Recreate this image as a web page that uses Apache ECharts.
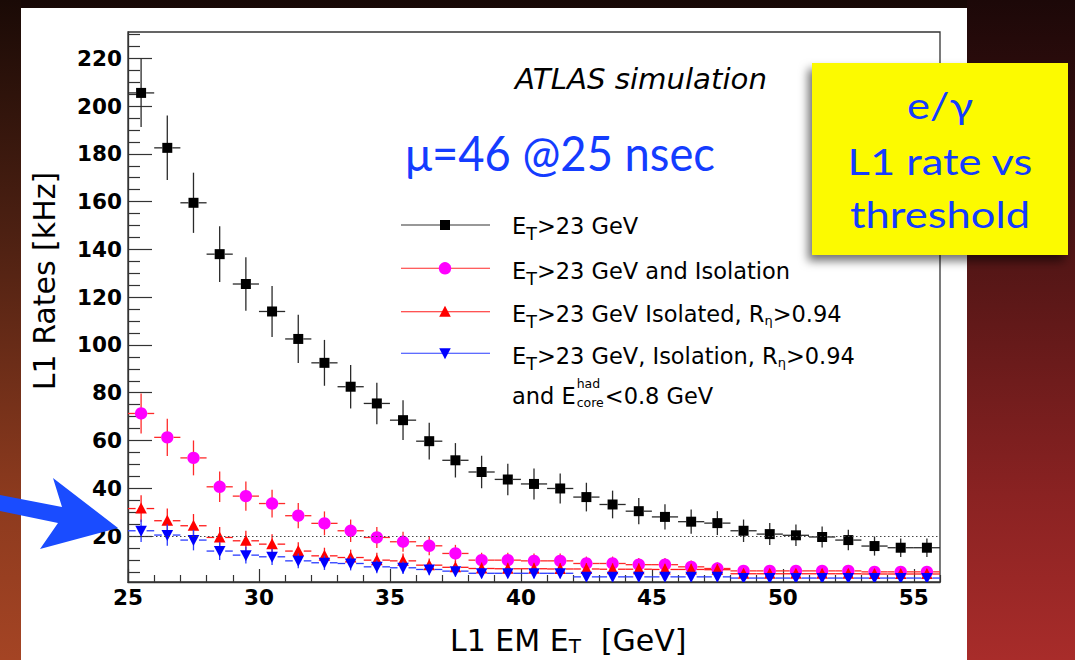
<!DOCTYPE html>
<html>
<head>
<meta charset="utf-8">
<script src="https://cdn.jsdelivr.net/npm/echarts@6/dist/echarts.min.js"></script>
<style>
  html, body { margin: 0; padding: 0; background: #000; }
  #chart { width: 1075px; height: 660px; }
</style>
</head>
<body>
<div id="chart"></div>
<script>
// L1 EM ET threshold scan: bin centres [GeV]
const thresholds = [25.5, 26.5, 27.5, 28.5, 29.5, 30.5, 31.5, 32.5, 33.5, 34.5, 35.5, 36.5, 37.5, 38.5, 39.5, 40.5,
                    41.5, 42.5, 43.5, 44.5, 45.5, 46.5, 47.5, 48.5, 49.5, 50.5, 51.5, 52.5, 53.5, 54.5, 55.5];

// ET>23 GeV
const rateEt = [205.5, 182.5, 159.5, 138.0, 125.5, 114.0, 102.5, 92.5, 82.5, 75.5, 68.5, 59.7, 51.7, 46.8, 43.7, 41.8,
                39.9, 36.3, 33.2, 30.4, 28.0, 26.0, 25.4, 22.2, 20.8, 20.3, 19.6, 18.3, 15.8, 15.1, 15.1];
const errEt = [14.3, 13.5, 12.6, 11.7, 11.2, 10.7, 10.1, 9.6, 9.1, 8.7, 8.3, 7.7, 7.2, 6.8, 6.6, 6.5,
               6.3, 6.0, 5.8, 5.5, 5.3, 5.1, 5.0, 4.7, 4.6, 4.5, 4.4, 4.3, 4.0, 3.9, 3.9];

// ET>23 GeV and Isolation
const rateIso = [71.3, 61.3, 52.7, 40.6, 36.7, 33.6, 28.5, 25.3, 22.2, 19.4, 17.6, 15.9, 12.7, 9.9, 9.9, 9.6,
                 9.6, 8.5, 8.5, 8.0, 8.0, 7.1, 6.4, 5.4, 5.4, 5.4, 5.4, 5.4, 5.0, 5.0, 5.0];
const errIso = [8.4, 7.8, 7.3, 6.4, 6.1, 5.8, 5.3, 5.0, 4.7, 4.4, 4.2, 4.0, 3.6, 3.1, 3.1, 3.1,
                3.1, 2.9, 2.9, 2.8, 2.8, 2.7, 2.5, 2.3, 2.3, 2.3, 2.3, 2.3, 2.2, 2.2, 2.2];

// ET>23 GeV Isolated, R_eta>0.94
const rateIsoReta = [31.5, 26.4, 24.3, 19.4, 18.0, 16.6, 13.7, 11.7, 11.0, 9.9, 9.6, 7.8, 6.9, 6.4, 6.3, 6.3,
                     6.2, 6.2, 6.1, 6.1, 6.0, 6.0, 5.9, 4.2, 4.2, 4.2, 4.2, 4.2, 4.1, 4.1, 4.1];
const errIsoReta = [5.6, 5.1, 4.9, 4.4, 4.2, 4.1, 3.7, 3.4, 3.3, 3.1, 3.1, 2.8, 2.6, 2.5, 2.5, 2.5,
                    2.5, 2.5, 2.5, 2.5, 2.4, 2.4, 2.4, 2.0, 2.0, 2.0, 2.0, 2.0, 2.0, 2.0, 2.0];

// ET>23 GeV, Isolation, R_eta>0.94 and E_core^had<0.8 GeV
const rateIsoRetaHad = [22.2, 20.4, 18.3, 13.7, 12.0, 11.3, 9.6, 8.8, 8.5, 7.1, 6.7, 6.0, 5.3, 4.4, 4.4, 4.4,
                        4.4, 2.9, 2.9, 2.9, 2.9, 2.9, 2.9, 2.4, 2.4, 2.4, 2.4, 2.4, 2.4, 2.4, 2.4];
const errIsoRetaHad = [4.7, 4.5, 4.3, 3.7, 3.5, 3.4, 3.1, 3.0, 2.9, 2.7, 2.6, 2.4, 2.3, 2.1, 2.1, 2.1,
                       2.1, 1.7, 1.7, 1.7, 1.7, 1.7, 1.7, 1.5, 1.5, 1.5, 1.5, 1.5, 1.5, 1.5, 1.5];

// Axis ranges and ticks
const xRange = [25, 56];
const yRange = [0.75, 231];
const xMajorTicks = [25, 30, 35, 40, 45, 50, 55];
const xMinorTicks = [26, 27, 28, 29, 31, 32, 33, 34, 36, 37, 38, 39, 41, 42, 43, 44, 46, 47, 48, 49, 51, 52, 53, 54, 56];
const yMajorTicks = [20, 40, 60, 80, 100, 120, 140, 160, 180, 200, 220];
const yMinorTicks = [5, 10, 15, 25, 30, 35, 45, 50, 55, 65, 70, 75, 85, 90, 95, 105, 110, 115, 125, 130, 135,
                     145, 150, 155, 165, 170, 175, 185, 190, 195, 205, 210, 215, 225, 230];
const referenceRate = 20;
const binHalfWidth = 0.5;

const GRID = { left: 128, top: 32, width: 812, height: 550 };
const FRAME = '#333';
const TXT = 'DejaVu Sans';
const SLIDE_BLUE = '#143cff';

// text measuring for the hand-placed labels
const mctx = document.createElement('canvas').getContext('2d');
function textWidth(str, font) { mctx.font = font; return mctx.measureText(str).width; }

function marker(kind, cx, cy, color) {
  if (kind === 'square') return { type: 'rect', shape: { x: cx - 5, y: cy - 5, width: 10, height: 10 }, style: { fill: color } };
  if (kind === 'circle') return { type: 'circle', shape: { cx: cx, cy: cy, r: 6.2 }, style: { fill: color } };
  if (kind === 'up') return { type: 'polygon', shape: { points: [[cx, cy - 6], [cx - 5.8, cy + 5], [cx + 5.8, cy + 5]] }, style: { fill: color } };
  return { type: 'polygon', shape: { points: [[cx, cy + 6], [cx - 5.8, cy - 5], [cx + 5.8, cy - 5]] }, style: { fill: color } };
}
const markerHalf = { square: 5, circle: 6.2, up: 5.5, down: 5.5 };

const seriesDefs = [
  { name: 'ET>23 GeV', values: rateEt, errors: errEt, kind: 'square', color: '#000000', bar: '#2a2a2a' },
  { name: 'ET>23 GeV and Isolation', values: rateIso, errors: errIso, kind: 'circle', color: '#ff00ff', bar: '#ff2a2a' },
  { name: 'ET>23 GeV Isolated', values: rateIsoReta, errors: errIsoReta, kind: 'up', color: '#ff0000', bar: '#ff1a1a' },
  { name: 'ET>23 GeV, Isolation, Had', values: rateIsoRetaHad, errors: errIsoRetaHad, kind: 'down', color: '#0000ff', bar: '#2a3cff' }
];

function errorSeries(def, idx) {
  const s = {
    type: 'custom',
    name: def.name,
    xAxisIndex: 0,
    yAxisIndex: 0,
    clip: true,
    silent: true,
    animation: false,
    data: thresholds.map((x, i) => [x, def.values[i], def.errors[i]]),
    renderItem: function (params, api) {
      const x = api.value(0), y = api.value(1), e = api.value(2);
      const p = api.coord([x, y]);
      const xl = api.coord([x - binHalfWidth, y])[0];
      const xr = api.coord([x + binHalfWidth, y])[0];
      const yt = api.coord([x, y + e])[1];
      const yb = api.coord([x, y - e])[1];
      const h = markerHalf[def.kind];
      const ls = { stroke: def.bar, lineWidth: 1.3 };
      return {
        type: 'group',
        children: [
          { type: 'line', shape: { x1: xl, y1: p[1], x2: p[0] - h, y2: p[1] }, style: ls },
          { type: 'line', shape: { x1: p[0] + h, y1: p[1], x2: xr, y2: p[1] }, style: ls },
          { type: 'line', shape: { x1: p[0], y1: yt, x2: p[0], y2: yb }, style: ls },
          marker(def.kind, p[0], p[1], def.color)
        ]
      };
    }
  };
  if (idx === 0) {
    s.markLine = {
      silent: true, symbol: 'none', animation: false,
      label: { show: false },
      lineStyle: { type: [1.5, 2.5], color: '#444', width: 1 },
      data: [{ yAxis: referenceRate }]
    };
  }
  return s;
}

// ---------- legend ----------
const legendRows = [225, 268.3, 311.7, 353.3];
const legendLineColors = ['#333', '#ff2a2a', '#ff1a1a', '#2a3cff'];
const legendTextY = [225.7, 271, 314.3, 356, 395.7];
const legendX = 512;
const legendFont = 22.5;
const baseRich = {
  sub: { fontFamily: TXT, fontSize: 17.5, fill: '#000', padding: [16, 0, 0, 0] },
  eta: { fontFamily: TXT, fontSize: 13, fill: '#000', padding: [13, 0, 0, 0] }
};
const legendTexts = [
  'E{sub|T}>23 GeV',
  'E{sub|T}>23 GeV and Isolation',
  'E{sub|T}>23 GeV Isolated, R{eta|η}>0.94',
  'E{sub|T}>23 GeV, Isolation, R{eta|η}>0.94'
];

const graphics = [];
// slide background
graphics.push({ type: 'rect', z: -100, shape: { x: 0, y: 0, width: 1075, height: 660 },
  style: { fill: { type: 'linear', x: 0, y: 0, x2: 0, y2: 1, colorStops: [
    { offset: 0, color: '#170806' }, { offset: 0.35, color: '#3c140e' }, { offset: 0.75, color: '#7c2a1c' }, { offset: 1, color: '#9a3422' }] } } });
graphics.push({ type: 'rect', z: -99, shape: { x: 0, y: 0, width: 21, height: 660 },
  style: { fill: { type: 'linear', x: 0, y: 0, x2: 0, y2: 1, colorStops: [
    { offset: 0, color: '#1a0a06' }, { offset: 0.35, color: '#4c2012' }, { offset: 0.75, color: '#8c3a1e' }, { offset: 1, color: '#a44424' }] } } });
graphics.push({ type: 'rect', z: -99, shape: { x: 967, y: 0, width: 108, height: 660 },
  style: { fill: { type: 'linear', x: 0, y: 0, x2: 0, y2: 1, colorStops: [
    { offset: 0, color: '#1c0808' }, { offset: 0.35, color: '#4c1414' }, { offset: 0.75, color: '#8a2222' }, { offset: 1, color: '#a82c2a' }] } } });
// white plot panel
graphics.push({ type: 'rect', z: -98, shape: { x: 21, y: 8, width: 946, height: 660 }, style: { fill: '#ffffff' } });

// legend lines and markers
seriesDefs.forEach((def, i) => {
  graphics.push({ type: 'line', z: 50, shape: { x1: 401, y1: legendRows[i], x2: 490, y2: legendRows[i] },
    style: { stroke: legendLineColors[i], lineWidth: 1.1 } });
  const m = marker(def.kind, 445, legendRows[i], def.color);
  m.z = 51;
  graphics.push(m);
});
legendTexts.forEach((t, i) => {
  graphics.push({ type: 'text', z: 52, x: legendX, y: legendTextY[i],
    style: { text: t, fontFamily: TXT, fontSize: legendFont, fill: '#000', verticalAlign: 'middle', align: 'left', rich: baseRich } });
});
// fifth legend line with stacked super/subscript
(function () {
  const mainFont = legendFont + 'px "' + TXT + '"';
  const smallSize = 12.5;
  const smallFont = smallSize + 'px "' + TXT + '"';
  const y = legendTextY[4];
  const w0 = textWidth('and E', mainFont);
  const ws = Math.max(textWidth('had', smallFont), textWidth('core', smallFont));
  graphics.push({ type: 'text', z: 52, x: legendX, y: y,
    style: { text: 'and E', fontFamily: TXT, fontSize: legendFont, fill: '#000', verticalAlign: 'middle' } });
  graphics.push({ type: 'text', z: 52, x: legendX + w0 + 1, y: y - 12.5,
    style: { text: 'had', fontFamily: TXT, fontSize: smallSize, fill: '#000', verticalAlign: 'middle' } });
  graphics.push({ type: 'text', z: 52, x: legendX + w0 + 1, y: y + 7,
    style: { text: 'core', fontFamily: TXT, fontSize: smallSize, fill: '#000', verticalAlign: 'middle' } });
  graphics.push({ type: 'text', z: 52, x: legendX + w0 + ws + 2, y: y,
    style: { text: '<0.8 GeV', fontFamily: TXT, fontSize: legendFont, fill: '#000', verticalAlign: 'middle' } });
})();

// width-fitted text helper
function fitted(str, o) {
  const font = (o.fontStyle || 'normal') + ' ' + (o.fontWeight || 'normal') + ' ' + o.fontSize + 'px ' + o.fontFamily;
  const sx = o.width ? o.width / textWidth(str, font) : 1;
  return { type: 'text', z: o.z || 60, x: o.x, y: o.y, scaleX: o.scaleX || sx,
    style: { text: str, fontFamily: o.fontFamily, fontSize: o.fontSize, fontStyle: o.fontStyle || 'normal',
      fontWeight: o.fontWeight || 'normal', fill: o.fill, align: o.align || 'left', verticalAlign: 'middle' } };
}

graphics.push(fitted('ATLAS simulation', { x: 515, y: 78.7, width: 252, fontSize: 29, fontFamily: '"DejaVu Sans"', fontStyle: 'italic', fill: '#000' }));
graphics.push(fitted('μ=46 @25 nsec', { x: 405, y: 152.5, width: 310, fontSize: 48, fontFamily: 'Lato, "Noto Sans", sans-serif', fill: SLIDE_BLUE }));

// axis titles
graphics.push({ type: 'text', z: 60, x: 44.5, y: 281, rotation: Math.PI / 2,
  style: { text: 'L1 Rates [kHz]', fontFamily: TXT, fontSize: 30, fill: '#000', align: 'center', verticalAlign: 'middle' } });
graphics.push({ type: 'text', z: 60, x: 450, y: 640,
  style: { text: 'L1 EM E{sub|T}{gap|}[GeV]', fontFamily: TXT, fontSize: 30, fill: '#000', align: 'left', verticalAlign: 'middle',
    rich: { sub: { fontFamily: TXT, fontSize: 20, fill: '#000', padding: [12, 0, 0, 0] },
            gap: { fontFamily: TXT, fontSize: 30, width: 20 } } } });

// blue arrow pointing at the 20 kHz line
graphics.push({ type: 'polygon', z: 70,
  shape: { points: [[0, 495], [62, 507], [53, 478], [118, 528], [40, 549], [58, 523], [0, 511]] },
  style: { fill: '#1a4cff' } });

// yellow note box
graphics.push({ type: 'rect', z: 80, shape: { x: 812, y: 63, width: 256, height: 192 },
  style: { fill: '#fcfa00', shadowBlur: 10, shadowColor: 'rgba(0,0,0,0.55)', shadowOffsetX: -4, shadowOffsetY: 6 } });
(function () {
  const fam = 'Lato, "Noto Sans", sans-serif';
  const size = 37;
  const sx = 180 / textWidth('threshold', 'normal normal ' + size + 'px ' + fam);
  [['e/γ', 104.5], ['L1 rate vs', 161], ['threshold', 213.5]].forEach(([t, y]) => {
    graphics.push(fitted(t, { x: 940, y: y, scaleX: sx, fontSize: size, fontFamily: fam, fill: SLIDE_BLUE, align: 'center', z: 81 }));
  });
})();

const chart = echarts.init(document.getElementById('chart'), null, { renderer: 'svg', width: 1075, height: 660 });

const axisLineStyle = { color: FRAME, width: 1.3 };
const tickFont = { color: '#000', fontFamily: TXT, fontWeight: 'bold', fontSize: 21.5 };
const option = {
  animation: false,
  backgroundColor: 'transparent',
  grid: [
    Object.assign({ show: true, borderColor: FRAME, borderWidth: 1.3, backgroundColor: 'transparent', containLabel: false }, GRID),
    Object.assign({ show: false, containLabel: false }, GRID)
  ],
  xAxis: [
    { type: 'value', gridIndex: 0, min: xRange[0], max: xRange[1], position: 'bottom',
      axisLine: { show: true, onZero: false, lineStyle: axisLineStyle },
      axisTick: { show: true, inside: true, length: 13, customValues: xMajorTicks, lineStyle: { color: FRAME, width: 1.2 } },
      axisLabel: Object.assign({ show: true, customValues: xMajorTicks, margin: 4 }, tickFont),
      splitLine: { show: false } },
    { type: 'value', gridIndex: 1, min: xRange[0], max: xRange[1], position: 'bottom',
      axisLine: { show: false, onZero: false },
      axisTick: { show: true, inside: true, length: 7, customValues: xMinorTicks, lineStyle: { color: FRAME, width: 1.2 } },
      axisLabel: { show: false }, splitLine: { show: false } }
  ],
  yAxis: [
    { type: 'value', gridIndex: 0, min: yRange[0], max: yRange[1], position: 'left',
      axisLine: { show: true, onZero: false, lineStyle: axisLineStyle },
      axisTick: { show: true, inside: true, length: 24, customValues: yMajorTicks, lineStyle: { color: FRAME, width: 1.2 } },
      axisLabel: Object.assign({ show: true, customValues: yMajorTicks, margin: 6 }, tickFont),
      splitLine: { show: false } },
    { type: 'value', gridIndex: 1, min: yRange[0], max: yRange[1], position: 'left',
      axisLine: { show: false, onZero: false },
      axisTick: { show: true, inside: true, length: 12, customValues: yMinorTicks, lineStyle: { color: FRAME, width: 1.2 } },
      axisLabel: { show: false }, splitLine: { show: false } }
  ],
  series: seriesDefs.map(errorSeries),
  graphic: { elements: graphics }
};
chart.setOption(option);
</script>
</body>
</html>
